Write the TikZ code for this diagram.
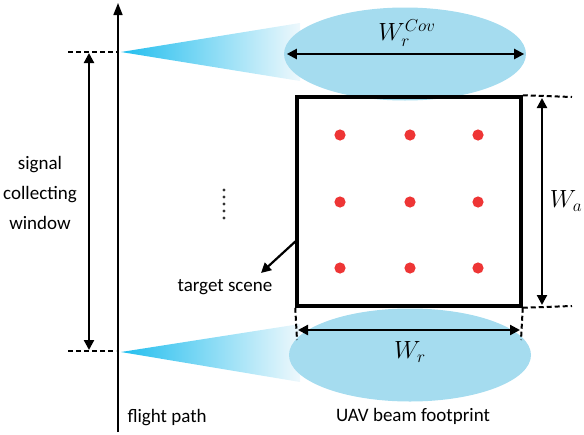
\documentclass[tikz,border=0pt]{standalone}
\usepackage{amsmath}
\usepackage{fontspec}
\setmainfont{Carlito}
\usetikzlibrary{arrows.meta}
\usetikzlibrary{shapes.geometric}

\definecolor{beamdeep}{HTML}{22BEEE}
\definecolor{beamlight}{HTML}{EEF8FC}
\definecolor{footblue}{HTML}{A5DCEF}
\definecolor{dotred}{HTML}{EE3535}

\begin{document}
\begin{tikzpicture}[x=1pt,y=-1pt,
	lbl/.style={font=\fontsize{19}{30}\selectfont},
	mth/.style={font=\fontsize{26}{26}\selectfont},
	dimarrow/.style={line width=2.2pt,{Triangle[length=10pt,width=10pt]}-{Triangle[length=10pt,width=10pt]}},
	dashline/.style={line width=2pt,dash pattern=on 5pt off 3pt},
	foot/.style={ellipse,fill=footblue,inner sep=0pt,minimum width=242pt,minimum height=93pt}]
	\useasboundingbox (0,0) rectangle (584,434);
	% flight path
	\coordinate (FPb) at (118,432);
	\coordinate (FPt) at (118,3);
	\draw[line width=1.6pt,-{Triangle[length=12pt,width=9pt]}] (FPb) -- (FPt);
	\node[lbl,anchor=west] (fp) at (124,418) {flight path};
	% beams
	\shade[left color=beamdeep,right color=beamlight] (121,52) -- (300,23) -- (300,81) -- cycle;
	\shade[left color=beamdeep,right color=beamlight] (121,352) -- (300,324) -- (300,382) -- cycle;
	\node[foot] (footT) at (405,54) {};
	\node[foot] (footB) at (410,355) {};
	% window
	\coordinate (WinT) at (68,52);
	\coordinate (WinTe) at (118,52);
	\coordinate (WinB) at (68,351);
	\coordinate (WinBe) at (116,351);
	\draw[dashline] (WinT) -- (WinTe);
	\draw[dashline] (WinB) -- (WinBe);
	\coordinate (A1) at (89,53);
	\coordinate (A2) at (89,350);
	\draw[dimarrow] (A1) -- (A2);
	\node[lbl,align=center] (win) at (40,193) {signal\\collecting\\window};
	% target scene
	\node[draw,line width=3.5pt,minimum width=224pt,minimum height=209pt,inner sep=0pt] (scene) at (409,201.5) {};
	\foreach \x in {340,410,478}
		\foreach \y in {135,202,268}
			\fill[dotred] (\x,\y) circle (5.6);
	\foreach \y in {190,197,204,211,218}
		\fill[black!80] (224,\y) circle (1.7);
	\node[lbl] (tgt) at (225,287) {target scene};
	\coordinate (TSs) at (297,240);
	\coordinate (TSe) at (261,273);
	\draw[line width=2.2pt,-{Triangle[length=10pt,width=10pt]}] (TSs) -- (TSe);
	% W_a
	\coordinate (WaT) at (572,97);
	\coordinate (WaB) at (572,306);
	\draw[dashline] (scene.north east) -- (WaT);
	\draw[dashline] (scene.south east) -- (WaB);
	\coordinate (Wa1) at (542,98);
	\coordinate (Wa2) at (542,305);
	\draw[dimarrow] (Wa1) -- (Wa2);
	\node[mth] (wa) at (566,201) {$W_a$};
	% W_r
	\coordinate (WrL) at (297,340);
	\coordinate (WrR) at (521,340);
	\draw[dashline] (scene.south west) -- (WrL);
	\draw[dashline] (scene.south east) -- (WrR);
	\coordinate (Wr1) at (298,330);
	\coordinate (Wr2) at (520,330);
	\draw[dimarrow] (Wr1) -- (Wr2);
	\node[mth] (wr) at (410,352) {$W_r$};
	\node[lbl] (uav) at (413,416) {UAV beam footprint};
	% W_r^Cov
	\draw[dimarrow] ([xshift=3pt]footT.west) -- ([xshift=-2pt]footT.east);
	\node[mth] (wrc) at (407,33) {$W_r^{Cov}$};
\end{tikzpicture}
\end{document}
